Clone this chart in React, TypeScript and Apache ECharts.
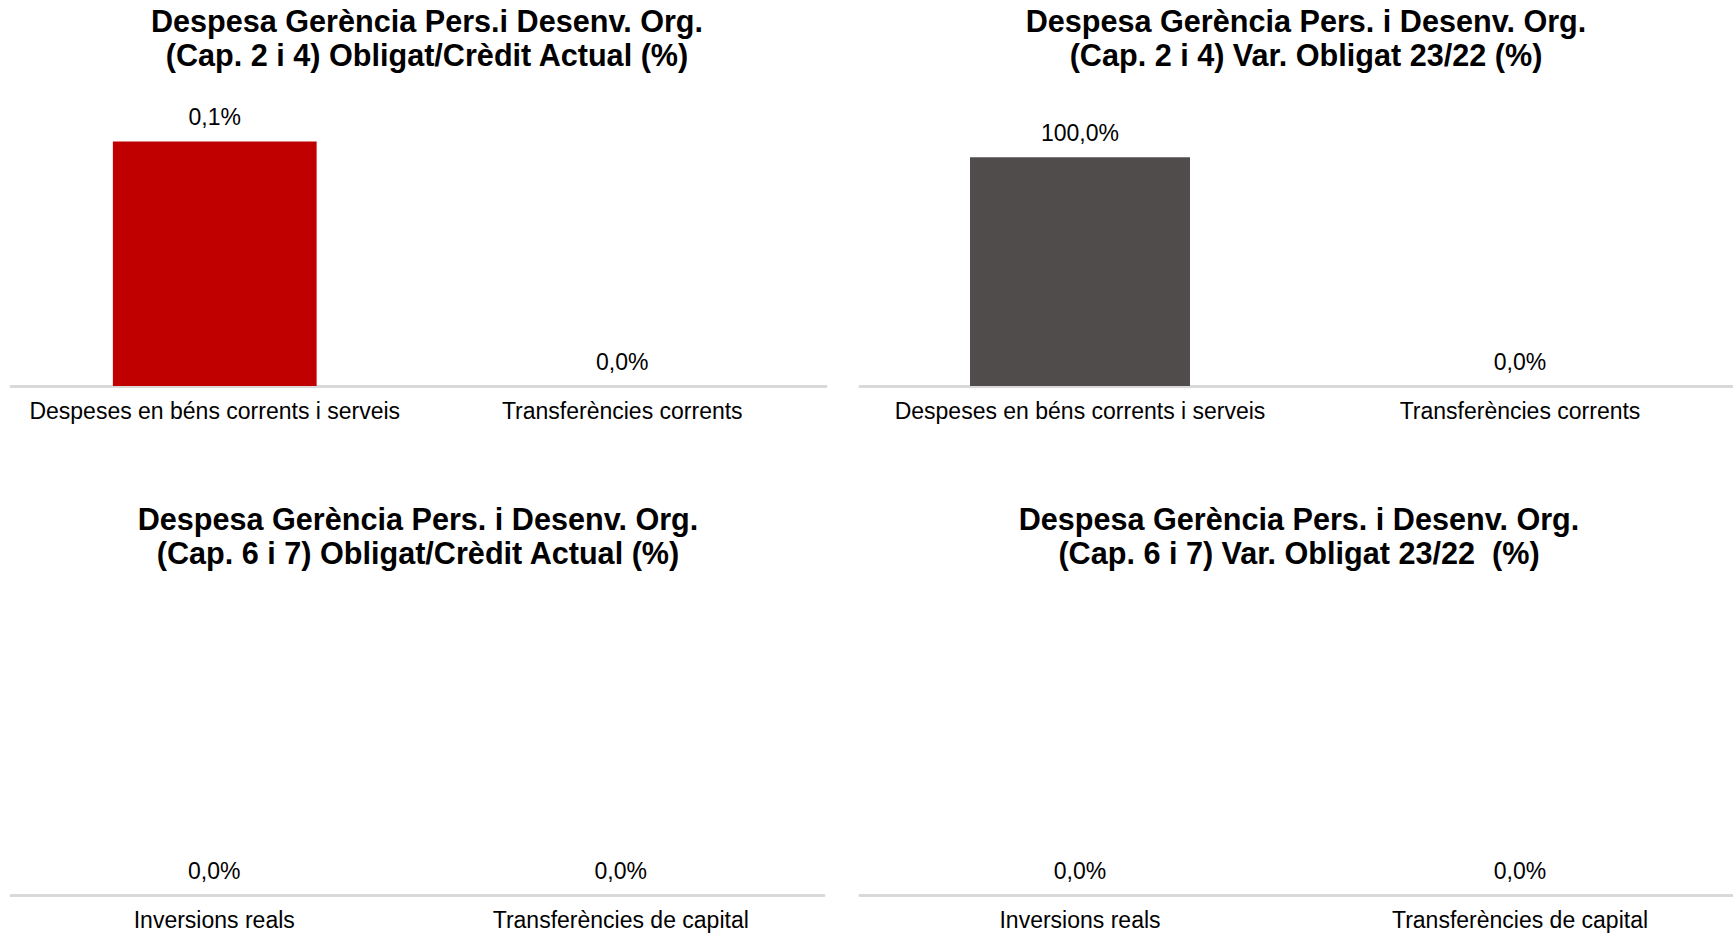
import React, { useEffect, useRef } from "react";
import * as echarts from "echarts";

const titles = [
  "Despesa Gerència Pers.i Desenv. Org.\n(Cap. 2 i 4) Obligat/Crèdit Actual (%)",
  "Despesa Gerència Pers. i Desenv. Org.\n(Cap. 2 i 4) Var. Obligat 23/22 (%)",
  "Despesa Gerència Pers. i Desenv. Org.\n(Cap. 6 i 7) Obligat/Crèdit Actual (%)",
  "Despesa Gerència Pers. i Desenv. Org.\n(Cap. 6 i 7) Var. Obligat 23/22  (%)",
];
const categoriesTop = ["Despeses en béns corrents i serveis", "Transferències corrents"];
const categoriesBottom = ["Inversions reals", "Transferències de capital"];
const valuesTopLeft = [0.1, 0];
const valuesTopRight = [100, 0];
const valuesBottomLeft = [0, 0];
const valuesBottomRight = [0, 0];
const colors = ["#C00000", "#504C4B", "#C00000", "#504C4B"];
const yMax = [0.117, 125, 1, 1];

const FONT = "'Liberation Sans', Arial, sans-serif";

export default function App() {
  const ref = useRef<HTMLDivElement>(null);
  useEffect(() => {
    document.body.style.margin = "0";
    const chart = echarts.init(ref.current!, null, { renderer: "svg" });
    const grids = [
      { left: 11, width: 815, top: 100, height: 286 },
      { left: 860, width: 880, top: 100, height: 286 },
      { left: 11, width: 813, top: 600, height: 295 },
      { left: 860, width: 880, top: 600, height: 295 },
    ];
    const titlePos = [
      [427, 4],
      [1306, 4],
      [418, 502],
      [1299, 502],
    ];
    const cats = [categoriesTop, categoriesTop, categoriesBottom, categoriesBottom];
    const vals = [valuesTopLeft, valuesTopRight, valuesBottomLeft, valuesBottomRight];
    const option: any = {
      animation: false,
      backgroundColor: "#ffffff",
      title: titles.map((t, i) => ({
        text: t,
        left: titlePos[i][0],
        top: titlePos[i][1],
        padding: 0,
        textAlign: "center",
        textStyle: {
          fontFamily: FONT,
          fontWeight: "bold",
          fontSize: 30.6,
          lineHeight: 34,
          color: "#000000",
        },
      })),
      grid: grids.map((g) => ({ ...g, containLabel: false })),
      xAxis: cats.map((c, i) => ({
        type: "category",
        gridIndex: i,
        data: c,
        axisLine: { show: true, lineStyle: { color: "#D9D9D9", width: 3 } },
        axisTick: { show: false },
        axisLabel: {
          interval: 0,
          margin: 13,
          color: "#000000",
          fontFamily: FONT,
          fontSize: 23,
        },
      })),
      yAxis: cats.map((_, i) => ({
        type: "value",
        gridIndex: i,
        min: 0,
        max: yMax[i],
        show: false,
        splitLine: { show: false },
      })),
      series: vals.map((v, i) => ({
        type: "bar",
        xAxisIndex: i,
        yAxisIndex: i,
        data: v,
        barWidth: "50%",
        itemStyle: { color: colors[i] },
        label: {
          show: true,
          position: "top",
          distance: 13,
          color: "#000000",
          fontFamily: FONT,
          fontSize: 23,
          formatter: (p: any) => p.value.toFixed(1).replace(".", ",") + "%",
        },
      })),
    };
    chart.setOption(option);
    return () => chart.dispose();
  }, []);
  return (
    <div style={{ width: 1733, height: 935, overflow: "hidden", position: "relative" }}>
      <div ref={ref} style={{ width: 1800, height: 935 }} />
    </div>
  );
}
